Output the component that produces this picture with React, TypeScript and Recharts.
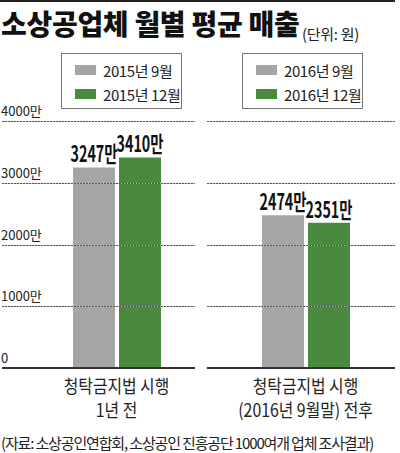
import React from 'react';
import { BarChart, Bar, XAxis, YAxis, Legend, LabelList, ReferenceLine } from 'recharts';

const leftCategory = ['청탁금지법 시행|1년 전'];
const rightCategory = ['청탁금지법 시행|(2016년 9월말) 전후'];
const leftSeriesNames = ['2015년 9월', '2015년 12월'];
const rightSeriesNames = ['2016년 9월', '2016년 12월'];
const leftSep = [3247];
const leftDec = [3410];
const rightSep = [2474];
const rightDec = [2351];
const yTicks = [0, 1000, 2000, 3000, 4000];
const titleText = '소상공업체 월별 평균 매출';
const unitText = '(단위: 원)';
const sourceText = '(자료: 소상공인연합회, 소상공인 진흥공단 1000여개 업체 조사결과)';

const GRAY = '#a5a5a5';
const GREEN = '#4b8a3e';
const FONT = '"Noto Sans CJK KR", "Noto Sans", sans-serif';

const leftData = leftCategory.map((c, i) => ({ name: c, a: leftSep[i], b: leftDec[i] }));
const rightData = rightCategory.map((c, i) => ({ name: c, a: rightSep[i], b: rightDec[i] }));

const GridAndLabel = (props: any) => {
  const { viewBox, text, drawLine, plotWidth } = props;
  if (!viewBox) return null;
  const x1 = Number.isFinite(viewBox.x) ? viewBox.x : 1;
  const w = Number.isFinite(viewBox.width) && viewBox.width > 0 ? viewBox.width : plotWidth;
  const y = Math.round(viewBox.y) + 0.5;
  return (
    <g>
      {drawLine && <line x1={x1} x2={x1 + w} y1={y} y2={y} stroke="#c4c4c4" strokeWidth={1} />}
      {drawLine && <line x1={x1} x2={x1 + w} y1={y} y2={y} stroke="#555" strokeWidth={1} strokeDasharray="2 1" />}
      {text && (
        <text x={1} y={viewBox.y - 5} textAnchor="start" fontSize={13} fill="#222" fontFamily={FONT}>
          {text}
        </text>
      )}
    </g>
  );
};

const XTick = (props: any) => {
  const { x, y, payload } = props;
  const lines = String(payload.value).split('|');
  return (
    <g transform={`translate(${x},${y}) scale(0.88,1)`}>
      {lines.map((l, i) => (
        <text key={i} x={0} y={17 + i * 24} textAnchor="middle" fontSize={18} fill="#222" fontFamily={FONT}>
          {l}
        </text>
      ))}
    </g>
  );
};

const ValueLabel = (props: any) => {
  const { x, y, width, value } = props;
  const cx = x + width / 2;
  return (
    <g transform={`translate(${cx},${y - 5}) scale(0.65,1)`}>
      <text x={0} y={0} textAnchor="middle" fontSize={22} fontWeight="bold" fill="#111" fontFamily={FONT}>
        {`${value}만`}
      </text>
    </g>
  );
};

const LegendBox = (props: any) => {
  const { payload } = props;
  return (
    <div
      style={{
        width: 119,
        height: 54,
        border: '1px solid #777',
        boxSizing: 'content-box',
        fontFamily: FONT,
        background: '#fff',
      }}
    >
      {(payload || []).map((p: any, i: number) => (
        <div key={i} style={{ display: 'flex', alignItems: 'center', height: 24, marginTop: i === 0 ? 4 : 0 }}>
          <span style={{ display: 'inline-block', width: 21, height: 10, background: p.color, marginLeft: 13, marginRight: 7 }} />
          <span style={{ fontSize: 15, color: '#222', letterSpacing: -0.4 }}>{p.value}</span>
        </div>
      ))}
    </div>
  );
};

const Panel = ({ data, names, padLeft, legendLeft, showY }: any) => {
  const chartWidth = showY ? 197 : 192;
  return (
    <BarChart
      width={chartWidth}
      height={440}
      data={data}
      margin={{ top: 121, right: 2, left: 1, bottom: 0 }}
      barSize={42}
      barGap={4}
    >
      <XAxis
        dataKey="name"
        height={72}
        tickLine={false}
        axisLine={{ stroke: '#333', strokeWidth: 2 }}
        padding={{ left: padLeft, right: 0 }}
        tick={<XTick />}
        interval={0}
      />
      <YAxis domain={[0, 4000]} ticks={yTicks} width={1} tick={false} axisLine={false} tickLine={false} />
      {yTicks.map((v) => (
        <ReferenceLine
          key={v}
          y={v}
          stroke="none"
          label={
            <GridAndLabel
              text={showY ? (v === 0 ? '0' : `${v}만`) : ''}
              drawLine={v !== 0}
              plotWidth={chartWidth - 4}
            />
          }
        />
      ))}
      <Legend
        layout="vertical"
        align="center"
        verticalAlign="middle"
        itemSorter="dataKey"
        content={<LegendBox />}
        wrapperStyle={{ top: 53, left: legendLeft, width: 121, height: 56 }}
      />
      <Bar dataKey="a" name={names[0]} fill={GRAY} isAnimationActive={false}>
        <LabelList dataKey="a" content={<ValueLabel />} />
      </Bar>
      <Bar dataKey="b" name={names[1]} fill={GREEN} isAnimationActive={false}>
        <LabelList dataKey="b" content={<ValueLabel />} />
      </Bar>
    </BarChart>
  );
};

export default function App() {
  return (
    <div style={{ position: 'absolute', left: 0, top: 0, width: 400, height: 453, background: '#fff', overflow: 'hidden', fontFamily: FONT }}>
      <div style={{ position: 'absolute', left: 0, top: 0, width: 395, height: 2, background: '#222' }} />
      <div style={{ position: 'absolute', left: 1, top: 3, whiteSpace: 'nowrap', fontSize: 28, fontWeight: 900, color: '#111', letterSpacing: -0.3 }}>
        {titleText}
      </div>
      <div style={{ position: 'absolute', left: 302, top: 23, fontSize: 15, color: '#222', whiteSpace: 'nowrap', letterSpacing: -0.3 }}>{unitText}</div>
      <div style={{ position: 'absolute', left: 0, top: 0 }}>
        <Panel data={leftData} names={leftSeriesNames} padLeft={36} legendLeft={61} showY />
      </div>
      <div style={{ position: 'absolute', left: 205, top: 0 }}>
        <Panel data={rightData} names={rightSeriesNames} padLeft={9} legendLeft={37} showY={false} />
      </div>
      <div style={{ position: 'absolute', left: 1, top: 432, whiteSpace: 'nowrap', fontSize: 15, color: '#222', letterSpacing: -1.15 }}>
        {sourceText}
      </div>
    </div>
  );
}
